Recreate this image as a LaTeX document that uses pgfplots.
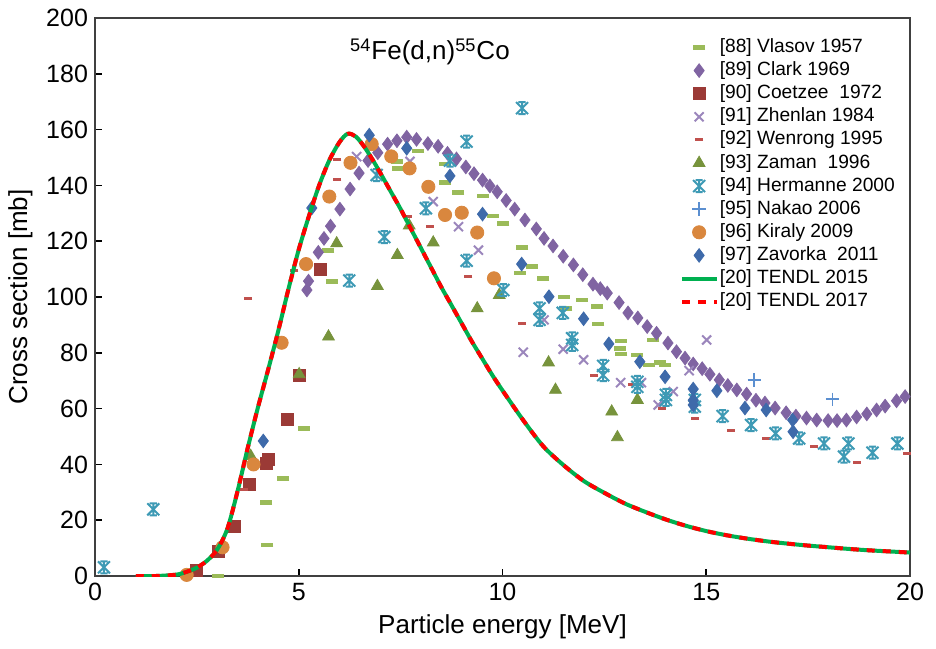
\documentclass[border=0pt]{standalone}
\usepackage{pgfplots}
\pgfplotsset{compat=1.18}
\usepackage{fontspec}
\setmainfont{Liberation Sans}
\usetikzlibrary{plotmarks}
\definecolor{cVla}{HTML}{9BBB59}
\definecolor{cCla}{HTML}{8064A2}
\definecolor{cCoe}{HTML}{9B3A36}
\definecolor{cZhe}{HTML}{9B86BC}
\definecolor{cWen}{HTML}{C0504D}
\definecolor{cZam}{HTML}{77933C}
\definecolor{cHer}{HTML}{3E9AB5}
\definecolor{cNak}{HTML}{5B8FD0}
\definecolor{cKir}{HTML}{D9873E}
\definecolor{cZav}{HTML}{3E6AAA}
\definecolor{cT15}{HTML}{00B050}
\definecolor{cT17}{HTML}{FF0000}
\pgfdeclareplotmark{xstar}{%
  \pgfpathmoveto{\pgfqpoint{-\pgfplotmarksize}{-\pgfplotmarksize}}%
  \pgfpathlineto{\pgfqpoint{\pgfplotmarksize}{\pgfplotmarksize}}%
  \pgfpathmoveto{\pgfqpoint{-\pgfplotmarksize}{\pgfplotmarksize}}%
  \pgfpathlineto{\pgfqpoint{\pgfplotmarksize}{-\pgfplotmarksize}}%
  \pgfpathmoveto{\pgfqpoint{0pt}{-\pgfplotmarksize}}%
  \pgfpathlineto{\pgfqpoint{0pt}{\pgfplotmarksize}}%
  \pgfpathmoveto{\pgfqpoint{-0.6\pgfplotmarksize}{-\pgfplotmarksize}}%
  \pgfpathlineto{\pgfqpoint{0.6\pgfplotmarksize}{-\pgfplotmarksize}}%
  \pgfpathmoveto{\pgfqpoint{-0.6\pgfplotmarksize}{\pgfplotmarksize}}%
  \pgfpathlineto{\pgfqpoint{0.6\pgfplotmarksize}{\pgfplotmarksize}}%
  \pgfusepathqstroke}
\pgfplotstableread{
x y
1.0 0
1.5 0
2.0 0.5
2.25 1.5
2.5 3
2.75 5.5
3.0 9.5
3.25 17
3.5 30.5
3.75 46
4.0 60.5
4.25 74
4.5 88
4.75 103
5.0 117
5.25 129
5.5 140
5.75 149
6.0 155.5
6.2 158.5
6.4 157.5
6.6 154
6.8 149.5
7.0 144.5
7.25 138
7.5 131.5
7.75 124.5
8.0 117.5
8.25 110.5
8.5 103.5
8.75 97
9.0 90.5
9.25 84
9.5 78
9.75 72
10.0 66.5
10.5 56
11.0 46.5
11.5 39.7
12.0 34
12.5 29.8
13.0 26
13.5 23
14.0 20.3
14.5 18
15.0 16.1
15.5 14.6
16.0 13.4
16.5 12.4
17.0 11.6
17.5 10.9
18.0 10.3
18.5 9.7
19.0 9.2
19.5 8.8
20.0 8.4
}\tendl
\begin{document}
\begin{tikzpicture}
\path[use as bounding box] (-47.5pt,-36pt) rectangle (420.5pt,288pt);
\begin{axis}[
  scale only axis, width=407.5pt, height=279pt,
  xmin=0, xmax=20, ymin=0, ymax=200,
  xtick={0,5,10,15,20}, ytick={0,20,...,200},
  xtick pos=left, ytick pos=left, tick align=inside,
  major tick length=3.5pt,
  tick style={black, line width=0.8pt},
  axis line style={black!75, line width=0.9pt},
  /pgf/number format/assume math mode=true,
  ticklabel style={font=\fontsize{12.5}{14}\selectfont},
  label style={font=\fontsize{13}{15}\selectfont},
  xlabel={Particle energy [MeV]},
  ylabel={Cross section [mb]},
  clip mode=individual,
  legend cell align=left,
  legend style={draw=none, fill=none, at={(0.71,0.974)}, anchor=north west,
    font=\fontsize{9.6}{11}\selectfont,
    nodes={inner sep=0.8pt, text height=7pt, text depth=2pt}, row sep=0.95pt},
]
\addplot[only marks, mark=-, mark size=3pt, color=cVla, line width=2.2pt] coordinates {
(3.03,0) (4.2,26.3) (4.23,11.1) (4.62,35) (5.12,52.9) (5.73,116.7) (5.81,105.5)
(7.41,148.6) (7.43,146.1) (7.93,152.4) (8.59,147.7) (8.59,141) (8.92,137.4)
(9.51,136.2) (9.76,129) (10.02,126.4) (10.42,108.7) (10.49,117.8) (10.72,110.9)
(11.0,106.7) (11.5,99.9) (11.57,95.9) (11.94,98.9) (12.32,96.6) (12.35,90.4)
(12.9,84.3) (12.88,81.6) (12.92,79.6) (13.31,79.2) (13.6,75.6) (13.7,84.6)
(13.87,76.5) (13.99,75.6)};
\addlegendentry{[88] Vlasov 1957}
\addplot[only marks, mark=diamond*, mark size=3.4pt, color=cCla] coordinates {
(5.20,102.5) (5.24,105.7) (5.48,116) (5.62,121) (5.78,125.4) (6.01,131.5)
(6.26,138.7) (6.48,144.4) (6.70,148.9) (6.94,151.7) (7.18,154.8) (7.41,156)
(7.65,157.3) (7.89,156.5) (8.17,155) (8.42,154) (8.65,151.5) (8.87,149.5)
(9.10,146.6) (9.30,144.2) (9.51,141.9) (9.69,139.8) (9.87,137.7) (10.09,134.6)
(10.30,131.5) (10.55,127.6) (10.83,124.4) (11.02,121) (11.24,118.3) (11.49,114.6)
(11.74,111.5) (11.97,108) (12.22,104.6) (12.40,103) (12.57,101.4) (12.86,98)
(13.08,94.3) (13.32,92.5) (13.55,89.4) (13.78,87) (14.06,83.5) (14.27,80.4)
(14.48,78.1) (14.68,76) (14.90,74.3) (15.09,72.3) (15.32,70.3) (15.53,68.3)
(15.75,66.7) (15.99,65.2) (16.22,63) (16.44,62) (16.69,60.2) (16.96,58.5)
(17.20,57.3) (17.46,56.6) (17.71,55.9) (17.99,55.7) (18.21,55.7) (18.44,55.9)
(18.69,57) (18.94,58.1) (19.18,59.5) (19.39,60.9) (19.67,62.8) (19.88,64.3)};
\addlegendentry{[89] Clark 1969}
\addplot[only marks, mark=square*, mark size=3pt, color=cCoe] coordinates {
(2.48,1.9) (3.03,8.7) (3.41,17.9) (3.79,33) (4.21,40.4) (4.25,41.8) (4.72,56.2)
(5.01,72) (5.54,110)};
\addlegendentry{[90] Coetzee\ \ 1972}
\addplot[only marks, mark=x, mark size=3.2pt, color=cZhe, line width=1pt] coordinates {
(6.42,150.3) (7.73,148.6) (8.3,134.2) (8.92,125.2) (9.41,116.8) (10.51,80.2)
(11.02,91.8) (11.49,81.3) (11.99,77.5) (12.9,69.3) (13.41,69.3) (13.82,61.3)
(14.19,66.1) (14.58,73.6) (15.01,84.6)};
\addlegendentry{[91] Zhenlan 1984}
\addplot[only marks, mark=-, mark size=2pt, color=cWen, line width=1.5pt] coordinates {
(3.66,31.1) (3.76,99.5) (4.89,109.4) (5.95,142.2) (5.95,149.4) (7.67,128.8)
(8.22,125.2) (9.16,107.3) (10.47,90.6) (12.25,71.7) (13.17,68.5) (13.91,60.1)
(14.72,56.5) (15.6,52.2) (16.47,49.4) (17.65,46.3) (18.69,40.6) (19.93,44)};
\addlegendentry{[92] Wenrong 1995}
\addplot[only marks, mark=triangle*, mark size=3.4pt, color=cZam] coordinates {
(3.82,43) (5.01,72.3) (5.73,85.8) (5.93,119.2) (6.93,103.9) (7.42,115)
(7.71,125.6) (8.3,119.5) (9.38,95.9) (9.92,100.7) (11.13,76.5) (11.3,66.7)
(12.68,58.9) (12.82,49.7) (13.31,63.1)};
\addlegendentry{[93] Zaman\ \ 1996}
\addplot[only marks, mark=xstar, mark size=3pt, color=cHer, line width=1pt] coordinates {
(0.22,3.1) (1.43,23.9) (6.24,105.9) (6.91,143.7) (7.1,121.5) (8.12,131.8)
(8.71,148.9) (9.12,155.7) (9.12,113) (10.02,102.5) (10.48,167.7) (10.91,95.9)
(10.91,91.8) (11.48,94.3) (11.71,85.2) (11.71,82.8) (12.47,75.3) (12.47,72)
(13.31,69.6) (13.31,67.8) (14.01,64.9) (14.01,63.1) (14.72,63.1) (14.72,60.7)
(15.4,57.3) (16.1,54.1) (16.7,51.1) (17.28,49.3) (17.89,47.5) (18.38,42.8)
(18.49,47.5) (19.08,44.2) (19.69,47.5)};
\addlegendentry{[94] Hermanne 2000}
\addplot[only marks, mark=+, mark size=3.4pt, color=cNak, line width=0.9pt] coordinates {
(16.18,70.2) (18.1,63.3)};
\addlegendentry{[95] Nakao 2006}
\addplot[only marks, mark=*, mark size=3.3pt, color=cKir] coordinates {
(2.25,0.4) (3.13,10.3) (3.89,40) (4.58,83.6) (5.18,111.8) (5.75,136) (6.27,148.1)
(6.79,154.8) (7.27,150.4) (7.72,146.1) (8.18,139.5) (8.59,129.4) (9.0,130.2)
(9.38,123.1) (9.79,106.7)};
\addlegendentry{[96] Kiraly 2009}
\addplot[only marks, mark=diamond*, mark size=3.4pt, color=cZav] coordinates {
(4.13,48.4) (5.32,131.9) (6.73,158) (7.65,153.3) (8.71,143.4) (9.51,129.7)
(10.47,111.8) (11.14,100.1) (11.99,92.2) (12.61,83.2) (13.37,76.8) (13.99,71.4)
(14.68,67) (14.68,63) (14.68,61.3) (15.26,66.4) (15.95,60.2) (16.47,59.5)
(17.12,55.9) (17.13,51.7)};
\addlegendentry{[97] Zavorka\ \ 2011}
\addplot[no marks, smooth, tension=0.5, color=cT15, line width=2pt] table {\tendl};
\addlegendentry{[20] TENDL 2015}
\addplot[no marks, smooth, tension=0.5, color=cT17, line width=2pt, dash pattern=on 4pt off 4pt] table {\tendl};
\addlegendentry{[20] TENDL 2017}
\node[font=\fontsize{13}{15}\selectfont] at (axis cs:8.22,187.8)
  {\textsuperscript{54}Fe(d,n)\textsuperscript{55}Co};
\end{axis}
\end{tikzpicture}
\end{document}
